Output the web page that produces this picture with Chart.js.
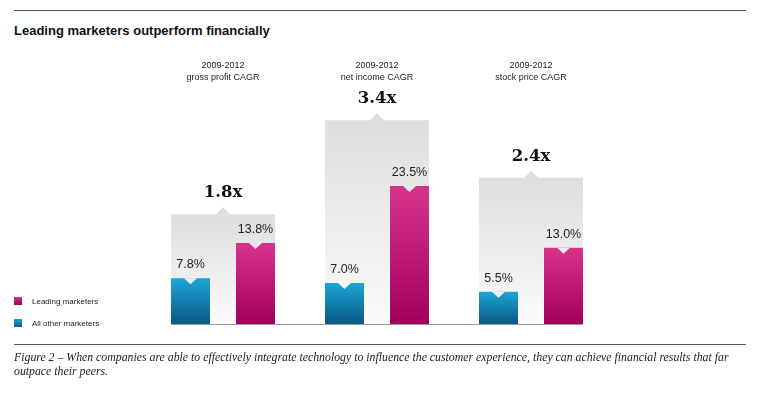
<!DOCTYPE html>
<html>
<head>
<meta charset="utf-8">
<script src="https://cdn.jsdelivr.net/npm/chart.js@4.4.1/dist/chart.umd.min.js"></script>
<style>
  html, body { margin: 0; padding: 0; background: #fff; }
  #wrap { position: relative; width: 757px; height: 395px; overflow: hidden; }
  #myChart { position: absolute; left: 0; top: 0; }
  .rule { position: absolute; left: 14px; width: 732px; height: 0; border-top: 1.5px solid #555; }
  #title { position: absolute; left: 14px; top: 23px; font: bold 13px "Liberation Sans", Arial, sans-serif; color: #111; }
  #caption { position: absolute; left: 14px; top: 350px; width: 740px; font: italic 11.8px/14px "Liberation Serif", serif; color: #222; }
</style>
</head>
<body>
<div id="wrap">
  <div class="rule" style="top:10px"></div>
  <div id="title">Leading marketers outperform financially</div>
  <canvas id="myChart" width="757" height="395"></canvas>
  <div class="rule" style="top:344px"></div>
  <div id="caption">Figure 2 – When companies are able to effectively integrate technology to influence the customer experience, they can achieve financial results that far<br>outpace their peers.</div>
</div>
<script>
const period = '2009-2012';
const groups = ['gross profit CAGR', 'net income CAGR', 'stock price CAGR'];
const leading = [13.8, 23.5, 13.0];
const others = [7.8, 7.0, 5.5];
const multiples = ['1.8x', '3.4x', '2.4x'];
const panelTop = [18.7, 34.7, 24.9];   // grey backdrop height

const blue = ['#1ca6d6', '#0a5784'];
const pink = ['#d7338b', '#a1005c'];
const grey = ['#dedede', '#fbfbfb'];

function vGrad(ctx, stops) {
  const { chart, raw } = ctx;
  const y = chart.scales && chart.scales.y;
  if (!y || raw == null) return stops[0];
  const top = y.getPixelForValue(raw), bottom = y.getPixelForValue(0);
  if (!isFinite(top) || !isFinite(bottom) || top === bottom) return stops[0];
  const g = chart.ctx.createLinearGradient(0, top, 0, bottom);
  g.addColorStop(0, stops[0]);
  g.addColorStop(1, stops[1]);
  return g;
}

const decor = {
  id: 'decor',
  afterDatasetsDraw(chart) {
    const { ctx } = chart;
    const x = chart.scales.x, y = chart.scales.y;
    const panels = chart.getDatasetMeta(0).data;
    const y0 = y.getPixelForValue(0);

    ctx.save();
    // baseline under the panels
    const first = panels[0], last = panels[panels.length - 1];
    ctx.strokeStyle = '#9a9a9a';
    ctx.lineWidth = 1;
    ctx.beginPath();
    ctx.moveTo(first.x - first.width / 2, y0 + 0.5);
    ctx.lineTo(last.x + last.width / 2, y0 + 0.5);
    ctx.stroke();

    panels.forEach((p, i) => {
      const cx = x.getPixelForValue(i);
      const top = p.y;
      const panelFill = vGrad({ chart, raw: panelTop[i] }, grey);

      // small peak on the panel
      ctx.fillStyle = grey[0];
      ctx.beginPath();
      ctx.moveTo(cx - 7.5, top + 0.5);
      ctx.lineTo(cx, top - 7);
      ctx.lineTo(cx + 7.5, top + 0.5);
      ctx.closePath();
      ctx.fill();

      // headers
      ctx.fillStyle = '#222';
      ctx.textAlign = 'center';
      ctx.textBaseline = 'alphabetic';
      ctx.font = '9px "Liberation Sans", Arial, sans-serif';
      ctx.fillText(period, cx, 68);
      ctx.fillText(groups[i], cx, 80);

      // multiple
      ctx.fillStyle = '#111';
      ctx.font = 'bold 16.5px "DejaVu Serif", serif';
      ctx.fillText(multiples[i], cx, top - 17);

      // notches + value labels on bars
      [1, 2].forEach(d => {
        const bar = chart.getDatasetMeta(d).data[i];
        const val = chart.data.datasets[d].data[i];
        ctx.fillStyle = panelFill;
        ctx.beginPath();
        ctx.moveTo(bar.x - 6.5, bar.y);
        ctx.lineTo(bar.x, bar.y + 6);
        ctx.lineTo(bar.x + 6.5, bar.y);
        ctx.closePath();
        ctx.fill();

        ctx.fillStyle = '#222';
        ctx.font = '12.5px "Liberation Sans", Arial, sans-serif';
        ctx.fillText(val.toFixed(1) + '%', bar.x, bar.y - 10);
      });
    });
    ctx.restore();
  },
  afterDraw(chart) {
    const { ctx } = chart;
    const items = [
      { label: chart.data.datasets[2].label, c: pink, y: 297 },
      { label: chart.data.datasets[1].label, c: blue, y: 319 }
    ];
    ctx.save();
    items.forEach(it => {
      const g = ctx.createLinearGradient(0, it.y, 0, it.y + 8);
      g.addColorStop(0, it.c[0]);
      g.addColorStop(1, it.c[1]);
      ctx.fillStyle = g;
      ctx.fillRect(14, it.y, 8, 8);
      ctx.fillStyle = '#222';
      ctx.font = '8px "Liberation Sans", Arial, sans-serif';
      ctx.textBaseline = 'middle';
      ctx.textAlign = 'left';
      ctx.fillText(it.label, 32, it.y + 4.5);
    });
    ctx.restore();
  }
};

const ctx = document.getElementById('myChart').getContext('2d');

new Chart(ctx, {
  type: 'bar',
  data: {
    labels: groups,
    datasets: [
      {
        label: 'backdrop',
        data: panelTop,
        grouped: false,
        order: 3,
        categoryPercentage: 0.675,
        barPercentage: 1,
        backgroundColor: c => vGrad(c, grey)
      },
      {
        label: 'All other marketers',
        data: others,
        order: 1,
        categoryPercentage: 0.844,
        barPercentage: 0.6,
        backgroundColor: c => vGrad(c, blue)
      },
      {
        label: 'Leading marketers',
        data: leading,
        order: 1,
        categoryPercentage: 0.844,
        barPercentage: 0.6,
        backgroundColor: c => vGrad(c, pink)
      }
    ]
  },
  options: {
    responsive: false,
    animation: false,
    layout: {
      padding: { left: 146, right: 149, top: 89, bottom: 71 }
    },
    plugins: {
      legend: { display: false },
      tooltip: { enabled: false },
      title: { display: false }
    },
    scales: {
      x: { display: false },
      y: { display: false, min: 0, max: 40 }
    }
  },
  plugins: [decor]
});
</script>
</body>
</html>
